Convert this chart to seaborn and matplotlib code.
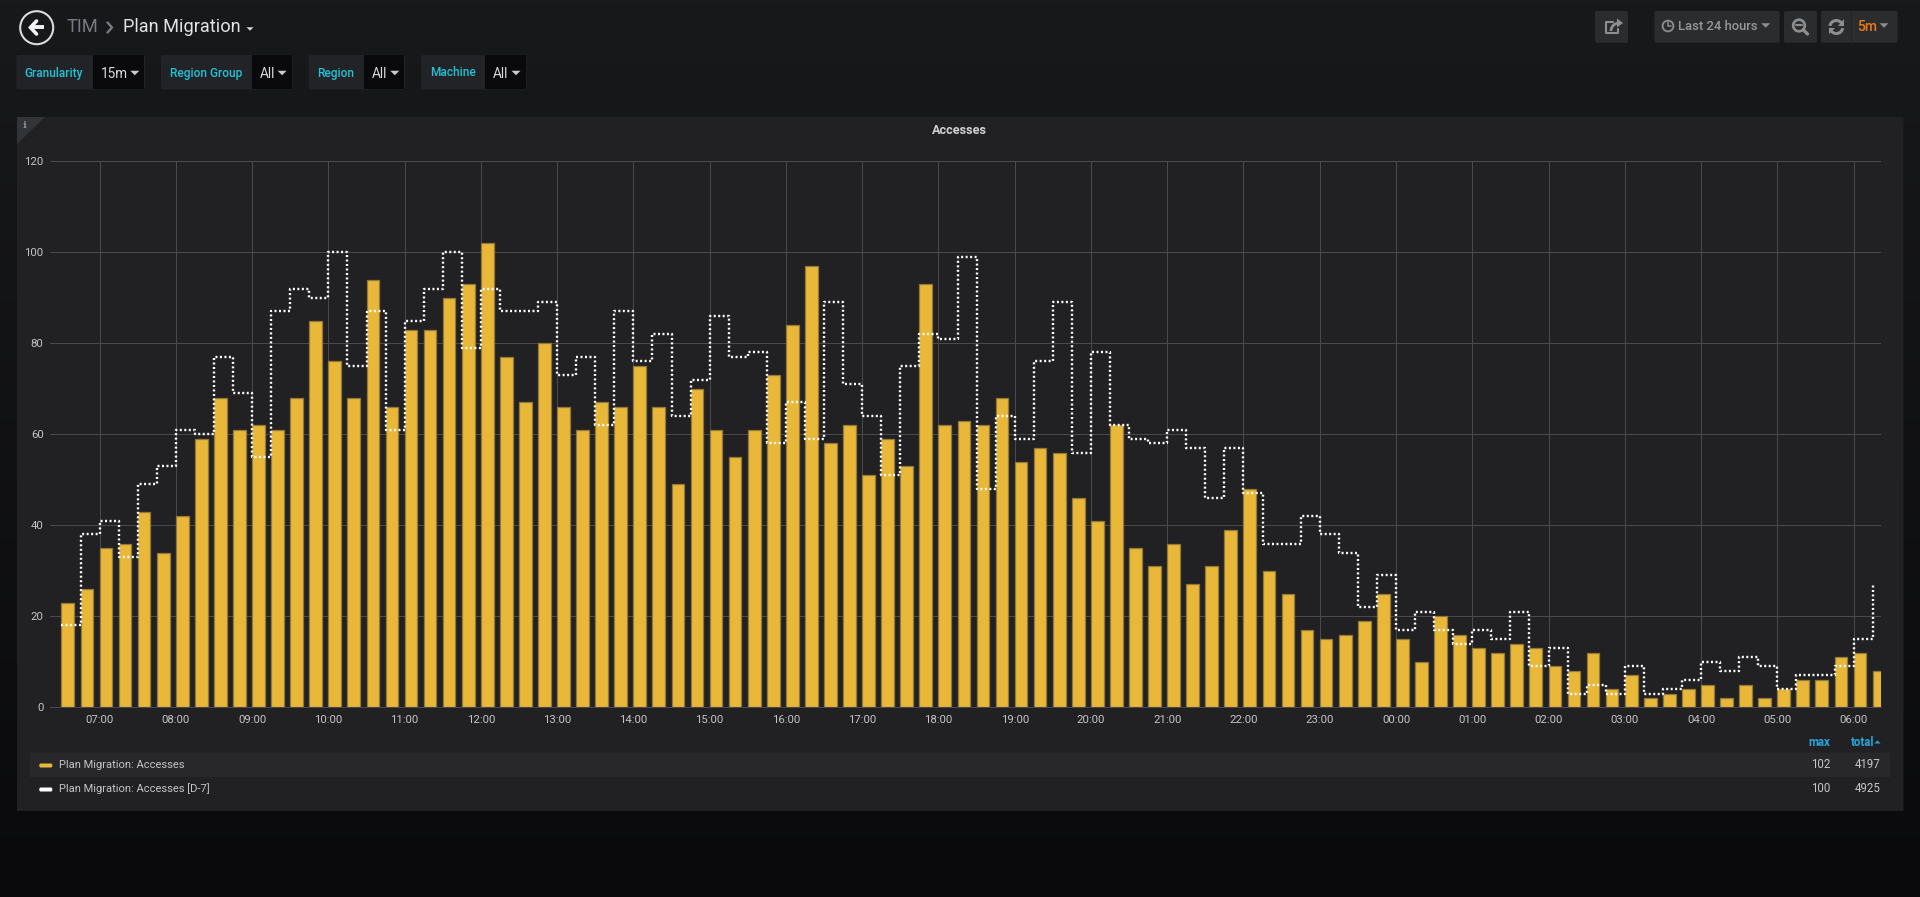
# Grafana "Plan Migration" dashboard - Accesses panel
import numpy as np
import pandas as pd
import matplotlib
matplotlib.use("Agg")
import matplotlib.pyplot as plt
import seaborn as sns
from matplotlib.patches import Arc, Circle, FancyBboxPatch, Polygon, Rectangle

# ----------------------------------------------------------
# DATA - one value per 15 minute slot, 06:30 to 06:15 next day
# ----------------------------------------------------------
accesses = [23, 26, 35, 36, 43, 34, 42, 59, 68, 61,
            62, 61, 68, 85, 76, 68, 94, 66, 83, 83,
            90, 93, 102, 77, 67, 80, 66, 61, 67, 66,
            75, 66, 49, 70, 61, 55, 61, 73, 84, 97,
            58, 62, 51, 59, 53, 93, 62, 63, 62, 68,
            54, 57, 56, 46, 41, 62, 35, 31, 36, 27,
            31, 39, 48, 30, 25, 17, 15, 16, 19, 25,
            15, 10, 20, 16, 13, 12, 14, 13, 9, 8,
            12, 4, 7, 2, 3, 4, 5, 2, 5, 2,
            4, 6, 6, 11, 12, 8]
accesses_d7 = [18, 38, 41, 33, 49, 53, 61, 60, 77, 69,
               55, 87, 92, 90, 100, 75, 87, 61, 85, 92,
               100, 79, 92, 87, 87, 89, 73, 77, 62, 87,
               76, 82, 64, 72, 86, 77, 78, 58, 67, 59,
               89, 71, 64, 51, 75, 82, 81, 99, 48, 64,
               59, 76, 89, 56, 78, 62, 59, 58, 61, 57,
               46, 57, 47, 36, 36, 42, 38, 34, 22, 29,
               17, 21, 17, 14, 17, 15, 21, 9, 13, 3,
               5, 3, 9, 3, 4, 6, 10, 8, 11, 9,
               4, 7, 7, 9, 15, 27]
y_ticks = [0, 20, 40, 60, 80, 100, 120]
tick_labels = ["07:00", "08:00", "09:00", "10:00", "11:00", "12:00", "13:00", "14:00",
               "15:00", "16:00", "17:00", "18:00", "19:00", "20:00", "21:00", "22:00",
               "23:00", "00:00", "01:00", "02:00", "03:00", "04:00", "05:00", "06:00"]
legend_names = ["Plan Migration: Accesses", "Plan Migration: Accesses [D-7]"]
legend_max = [102, 100]
legend_total = [4197, 4925]

# Grafana bars start at their timestamp and fill 2/3 of the slot
slot = 0.25
bar_share = 2 / 3
hours = 6.5 + np.arange(len(accesses)) * slot
df = pd.DataFrame({"hour": hours, "bar_center": hours + slot * bar_share / 2,
                   "accesses": accesses, "accesses_d7": accesses_d7})
tick_hours = 7 + np.arange(len(tick_labels))

# colours
GOLD = "#e9b838"
GOLD_EDGE = "#94793a"
PANEL = "#212124"
CYAN = "#22c3d8"
BLUE = "#2aa5da"
TEXT = "#c4c5c6"
ICON = "#8e8e8e"
BUTTON = "#2b2c2e"

sns.set_theme(style="darkgrid")
plt.rcParams["font.family"] = ["Roboto", "DejaVu Sans"]

fig = plt.figure(figsize=(19.2, 8.97), dpi=100)

# ----------------------------------------------------------
# PAGE CHROME - drawn on a full figure axes in pixel units
# ----------------------------------------------------------
bg = fig.add_axes([0, 0, 1, 1], zorder=0)
bg.set_xlim(0, 1920)
bg.set_ylim(897, 0)
bg.axis("off")
gradient = np.linspace(0, 1, 256).reshape(-1, 1)
bg_cmap = matplotlib.colors.LinearSegmentedColormap.from_list("page", ["#18191b", "#0a0a0c"])
bg.imshow(gradient, cmap=bg_cmap, extent=(0, 1920, 897, 0), aspect="auto", zorder=0)


def box(x0, y0, x1, y1, color, z=1, r=2):
    bg.add_patch(FancyBboxPatch((x0, y0), x1 - x0, y1 - y0, boxstyle=f"round,pad=0,rounding_size={r}",
                                fc=color, ec="none", zorder=z))


def caret(x, y, color="#c9cacb", w=4.5, h=4.5):
    bg.add_patch(Polygon([(x - w, y - h / 2), (x + w, y - h / 2), (x, y + h / 2)], fc=color, ec="none", zorder=4))


def label(x, y, s, size=8.6, color=TEXT, ha="left", weight="normal", **kw):
    bg.text(x, y, s, fontsize=size, color=color, ha=ha, va="center", fontweight=weight, zorder=5, **kw)


# back button and breadcrumb
bg.add_patch(Circle((36.7, 27.7), 16.5, fc="none", ec="#dcdcdc", lw=1.5, zorder=4))
bg.plot([44, 31], [27.5, 27.5], color="#f2f2f2", lw=2.8, solid_capstyle="butt", zorder=5)
bg.plot([36.5, 30.5, 36.5], [21, 27.5, 34], color="#f2f2f2", lw=2.6, solid_joinstyle="miter", zorder=5)
label(67, 27.5, "TIM", size=13.2, color="#767980")
bg.plot([107.5, 112, 107.5], [22.5, 27.5, 32.5], color="#767980", lw=1.7, zorder=5)
label(123, 27.5, "Plan Migration", size=13.1, color="#e3e3e3")
caret(250, 29, color="#d8d9da", w=3.5, h=3.5)

# filter chips: left, split, right, label, value
chips = [(16.3, 93, 145.3, "Granularity", "15m"),
         (161, 251.8, 292.6, "Region Group", "All"),
         (308.6, 363.7, 405.3, "Region", "All"),
         (421.2, 484.5, 526.5, "Machine", "All")]
for left, split, right, name, value in chips:
    box(left, 55, right, 89.5, "#222326")
    bg.add_patch(Rectangle((split, 55.5), right - split - 1, 33.5, fc="#0a0a0c", ec="none", zorder=2))
    label(left + 8.5, 73, name, size=8.6, color=CYAN, weight="medium")
    label(split + 8, 73.5, value, size=9.8, color="#d8d9da")
    caret(right - 10.5, 73)

# top right buttons
box(1595, 11, 1628, 42.7, BUTTON)
box(1654.3, 11, 1779.7, 42.7, BUTTON)
box(1784, 11, 1817, 42.7, BUTTON)
box(1821, 11, 1897.7, 42.7, BUTTON)
bg.plot([1851.3, 1851.3], [11, 42.7], color="#232426", lw=0.8, zorder=3)

# share icon
bg.plot([1613, 1606, 1606, 1618, 1618], [22, 22, 33, 33, 29], color=ICON, lw=1.5, zorder=4)
bg.add_patch(Arc((1619, 31), 16, 16, theta1=180, theta2=270, ec=ICON, lw=2, zorder=4))
bg.add_patch(Polygon([(1617, 18.5), (1623, 23), (1617, 27.5)], fc=ICON, ec="none", zorder=4))

# time picker
bg.add_patch(Circle((1668, 26), 5.4, fc="none", ec=ICON, lw=1.3, zorder=4))
bg.plot([1668, 1668, 1671], [22.5, 26.5, 26.5], color=ICON, lw=1.1, zorder=4)
label(1677.7, 27, "Last 24 hours", size=9.4, color="#989898", weight="medium")
caret(1765.7, 25.5, color=ICON)

# zoom out icon
bg.add_patch(Circle((1799, 25.5), 5.8, fc="none", ec=ICON, lw=1.9, zorder=4))
bg.plot([1803.5, 1807.5], [30, 34], color=ICON, lw=2.4, zorder=4)
bg.plot([1796, 1802], [25.5, 25.5], color=ICON, lw=1.5, zorder=4)

# refresh icon and interval
bg.add_patch(Arc((1836.3, 27), 13, 13, theta1=190, theta2=330, ec=ICON, lw=2.2, zorder=4))
bg.add_patch(Arc((1836.3, 27), 13, 13, theta1=10, theta2=150, ec=ICON, lw=2.2, zorder=4))
bg.add_patch(Polygon([(1843.5, 19.5), (1843.5, 26), (1837.5, 26)], fc=ICON, ec="none", zorder=4))
bg.add_patch(Polygon([(1829, 34.5), (1829, 28), (1835, 28)], fc=ICON, ec="none", zorder=4))
label(1856.7, 27, "5m", size=10, color="#eb7b18", weight="medium")
caret(1884, 25.5, color=ICON)

# panel, info corner, title
box(17, 117, 1903.5, 811, PANEL, r=1)
bg.add_patch(Polygon([(17, 117), (45, 117), (17, 144)], fc="#333437", ec="none", zorder=2))
bg.text(24.5, 125.5, "i", fontsize=7.5, color="#8c8c8c", ha="center", va="center", family="DejaVu Serif",
        fontweight="bold", zorder=5)
label(959, 130.5, "Accesses", size=9.1, color="#d0d1d2", ha="center", weight="bold")

# legend table
box(30, 752.7, 1890, 777, "#28282b", r=0)
for row_y, color, name, top, total in zip([764.5, 788.5], [GOLD, "#ffffff"], legend_names, legend_max, legend_total):
    box(39.3, row_y - 1, 52.3, row_y + 3, color, z=4, r=1.5)
    label(58.7, row_y, name, size=8.05)
    label(1830, row_y, str(top), size=8.3, ha="right")
    label(1880.5, row_y, str(total), size=8.3, ha="right")
label(1830, 742.5, "max", size=8.3, color=BLUE, ha="right", weight="bold")
label(1874.5, 742.5, "total", size=8.3, color=BLUE, ha="right", weight="bold")
caret(1877.5, 742, color=BLUE, w=3, h=-3)

# ----------------------------------------------------------
# CHART - bars with the previous week as dotted step line
# ----------------------------------------------------------
ax = fig.add_axes([49.8 / 1920, 1 - 707.3 / 897, (1880.8 - 49.8) / 1920, (707.3 - 161.3) / 897], zorder=2)
ax.patch.set_alpha(0)

sns.barplot(data=df, x="bar_center", y="accesses", native_scale=True, width=bar_share,
            color=GOLD, saturation=1, edgecolor=GOLD_EDGE, linewidth=0.9, errorbar=None, ax=ax)
sns.lineplot(data=df, x="hour", y="accesses_d7", drawstyle="steps-post", color="#ffffff", lw=1.7,
             linestyle=(0, (0.85, 1.05)), errorbar=None, ax=ax)

ax.set_xlim(6.347, 30.357)
ax.set_ylim(0, 120)
ax.set_xticks(tick_hours, tick_labels)
ax.set_yticks(y_ticks)
ax.set_xlabel("")
ax.set_ylabel("")
ax.set_axisbelow(True)
ax.grid(True, color="#4a4a4c", lw=0.75)
ax.tick_params(length=0, labelcolor=TEXT, labelsize=8.2)
ax.tick_params(axis="x", pad=5.5)
ax.tick_params(axis="y", pad=4.5)
for name in ["top", "right", "left"]:
    ax.spines[name].set_visible(False)
ax.spines["bottom"].set_visible(True)
ax.spines["bottom"].set_color("#4a4a4c")
ax.spines["bottom"].set_linewidth(0.75)

fig.savefig("out.png", dpi=100, facecolor="#0b0c0e")
